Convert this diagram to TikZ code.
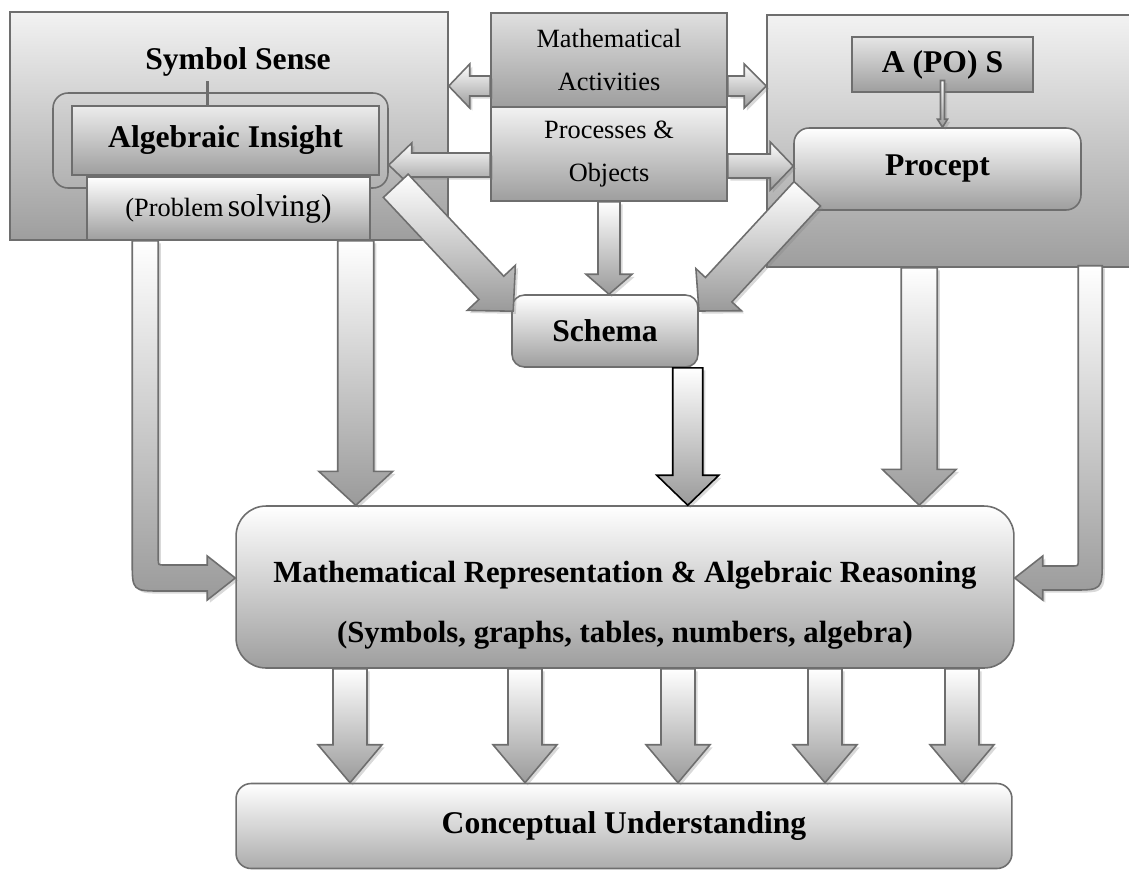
\documentclass[tikz,border=0pt]{standalone}
\usepackage{fontspec}
\setmainfont{Liberation Serif}
\usetikzlibrary{calc,shadows}
\definecolor{boxline}{HTML}{6E6E6E}
\definecolor{boxtop}{HTML}{F2F2F2}
\definecolor{boxbot}{HTML}{9E9E9E}
\definecolor{arrbot}{HTML}{9A9A9A}
\newcommand{\bigtext}{\fontsize{18}{21}\selectfont\bfseries}
\newcommand{\medtext}{\fontsize{15}{25}\selectfont}
\newcommand{\blockarrow}[6][]{%
  \path let \p1=($(#3)-(#2)$) in
    \pgfextra{\pgfmathsetmacro{\barang}{atan2(\y1,\x1)}\pgfmathsetmacro{\barlen}{veclen(\x1,\y1)/0.569055}%
      \xdef\barang{\barang}\xdef\barlen{\barlen}};
  \begin{scope}[shift={(#2)},rotate=\barang]
    \draw[blockarr,#1] (0,-#4) -- ({\barlen-#6},-#4) -- ({\barlen-#6},-#5) -- (\barlen,0)
      -- ({\barlen-#6},#5) -- ({\barlen-#6},#4) -- (0,#4) -- cycle;
  \end{scope}}
\newcommand{\bendarrow}[7]{%
  \coordinate (bk) at (#1 |- #2);
  \draw[blockarr] ($(#1)+({-(#3)*#4},0)$) -- ($(bk)+({-(#3)*#4},{#4-#7})$)
    .. controls ($(bk)+({-(#3)*#4},#4)$) .. ($(bk)+({(#3)*(#7-#4)},#4)$)
    -- ($(#2)+({-(#3)*#6},#4)$) -- ($(#2)+({-(#3)*#6},#5)$) -- (#2)
    -- ($(#2)+({-(#3)*#6},-#5)$) -- ($(#2)+({-(#3)*#6},-#4)$)
    -- ($(bk)+({(#3)*(#4+6)},-#4)$) .. controls ($(bk)+({(#3)*#4},-#4)$) .. ($(bk)+({(#3)*#4},{-#4-6})$)
    -- ($(#1)+({(#3)*#4},0)$) -- cycle;}

\begin{document}
\begin{tikzpicture}[x=0.02cm, y=-0.02cm,
  gbox/.style={draw=boxline, line width=0.9pt, inner sep=0pt, top color=white, bottom color=boxbot},
  blockarr/.style={draw=boxline, line width=0.9pt, top color=white, bottom color=arrbot,
    drop shadow={shadow xshift=1.5pt, shadow yshift=-1.5pt, opacity=0.3}},
  stubline/.style={draw=boxline, line width=2.2pt}]
\useasboundingbox (0,0) rectangle (1129,870);

\node[gbox, top color=boxtop, minimum width=8.76cm, minimum height=4.56cm] (ssbox) at (229,126) {};
\node[gbox, top color=boxtop, minimum width=7.3cm, minimum height=5.04cm] (apbox) at (949.5,141) {};
\node[font=\bigtext] (ssname) at (238,62) {Symbol Sense};
\node[draw=boxline, line width=0.9pt, rounded corners=0.3cm, minimum width=6.7cm, minimum height=1.9cm] (aiouter) at (220.5,140.5) {};
\node[gbox, top color=gray!15, minimum width=6.14cm, minimum height=1.38cm, font=\bigtext] (ai) at (225.5,140.5) {Algebraic Insight};
\node[gbox, minimum width=5.66cm, minimum height=1.26cm] (ps) at (228.5,208.5)
  {{\fontsize{15}{18}\selectfont(Problem} {\fontsize{18}{20}\selectfont solving)}};
\coordinate (stubtop) at ($(aiouter.north)+(-13,-11)$);
\draw[stubline] (stubtop) -- (stubtop |- ai.north);

\node[gbox, top color=gray!25, minimum width=4.72cm, minimum height=1.88cm, align=center, font=\medtext] (ma) at (609,60) {Mathematical\\Activities};
\node[gbox, top color=boxtop, minimum width=4.72cm, minimum height=1.88cm, align=center, font=\medtext] (po) at (609,154) {Processes \&\\Objects};

\node[gbox, top color=gray!20, minimum width=3.62cm, minimum height=1.1cm, font=\bigtext] (apos) at (942.5,64.5) {A (PO) S};
\node[gbox, rounded corners=0.3cm, minimum width=5.74cm, minimum height=1.64cm, font=\bigtext] (procept) at (937.5,169) {Procept};

\node[gbox, rounded corners=0.25cm, minimum width=3.72cm, minimum height=1.44cm, font=\bigtext] (schema) at (605,331) {Schema};
\node[gbox, rounded corners=0.6cm, minimum width=15.56cm, minimum height=3.24cm] (main) at (625,587) {};
\node[font=\fontsize{17.5}{34}\selectfont\bfseries, align=center] (mainlbl) at ($(main.center)+(0,18)$)
  {Mathematical Representation \& Algebraic Reasoning\\(Symbols, graphs, tables, numbers, algebra)};
\node[gbox, bottom color=gray!65, rounded corners=0.3cm, minimum width=15.52cm, minimum height=1.7cm, font=\bigtext] (cu) at (624,826) {Conceptual Understanding};

\coordinate (apin) at ($(apos.center)+(0,16)$);
\blockarrow[drop shadow={opacity=0}]{apin}{apin |- procept.north}{2}{5}{8}

\coordinate (mal) at ($(ma.west)+(0,26)$);
\coordinate (mar) at ($(ma.east)+(0,26)$);
\coordinate (pol) at ($(po.west)+(0,11)$);
\coordinate (por) at ($(po.east)+(0,12)$);
\blockarrow{mal}{mal -| ssbox.east}{10}{22}{21}
\blockarrow{mar}{mar -| apbox.west}{10}{22}{22}
\blockarrow{pol}{pol -| aiouter.east}{12}{22}{23}
\blockarrow{por}{por -| procept.west}{12}{24}{23}

\coordinate (dgl) at ($(aiouter.south east)+(7,-3)$);
\coordinate (dgltip) at ($(schema.north west)+(2,17)$);
\coordinate (dgr) at ($(procept.south west)+(14,-17)$);
\coordinate (dgrtip) at ($(schema.north east)+(0,17)$);
\blockarrow{dgl}{dgltip}{17}{33}{32}
\blockarrow{dgr}{dgrtip}{18}{31}{29}
\blockarrow{po.south}{po.south |- schema.north}{11}{23}{20}

\coordinate (scd) at ($(schema.south east)+(-11,0)$);
\coordinate (psd) at ($(ps.south east)+(-15,0)$);
\coordinate (apd) at ($(apbox.south west)+(153,0)$);
\blockarrow[draw=black]{scd}{scd |- main.north}{15}{31}{30}
\blockarrow{psd}{psd |- main.north}{18}{37}{34}
\blockarrow{apd}{apd |- main.north}{18}{37}{36}

\coordinate (psl) at ($(ps.south west)+(59,0)$);
\coordinate (lltip) at ($(main.west)+(0,-9)$);
\coordinate (apr) at ($(apbox.south west)+(324,-2)$);
\coordinate (rltip) at ($(main.east)+(0,-9)$);
\bendarrow{psl}{lltip}{1}{13}{22}{28}{30}
\bendarrow{apr}{rltip}{-1}{12}{22}{28}{30}

\foreach \dx [count=\i] in {-275,-100,53,200,337}{
  \coordinate (dn\i) at ($(main.south)+(\dx,0)$);
  \blockarrow{dn\i}{dn\i |- cu.north}{17}{32}{38}
}
\end{tikzpicture}
\end{document}
